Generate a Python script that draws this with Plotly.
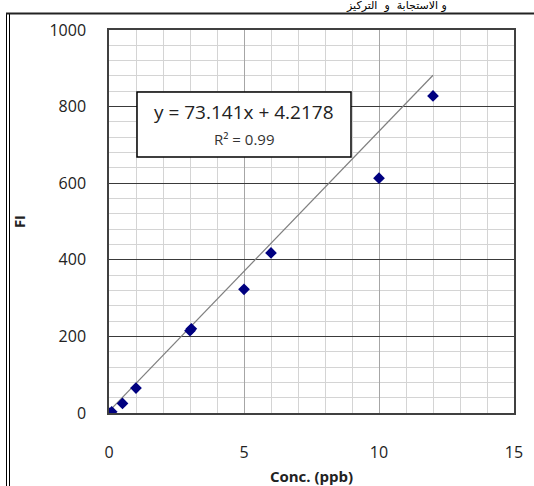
import plotly.graph_objects as go

# Calibration data: concentration (ppb) vs fluorescence intensity
conc = [0, 0.1, 0.5, 1, 3, 3.05, 5, 6, 10, 12]
fi = [0, 3, 25, 65, 215, 220, 323, 418, 613, 828]

# Linear trendline as reported
slope = 73.141
intercept = 4.2178
r_squared = 0.99
fit_x = [min(conc), max(conc)]
fit_y = [slope * x + intercept for x in fit_x]

x_ticks = [0, 5, 10, 15]
y_ticks = [0, 200, 400, 600, 800, 1000]

W, H = 534, 486
ML, MR, MT, MB = 109, 20, 30, 73
PW, PH = W - ML - MR, H - MT - MB

def px_x(p):
    return (p - ML) / PW

def px_y(p):
    return 1 - (p - MT) / PH

font_main = "Open Sans, Liberation Sans, sans-serif"

fig = go.Figure()

fig.add_trace(go.Scatter(
    x=fit_x, y=fit_y, mode="lines",
    line=dict(color="#7f7f7f", width=1.2),
    hoverinfo="skip", showlegend=False,
))

fig.add_trace(go.Scatter(
    x=conc, y=fi, mode="markers",
    marker=dict(symbol="diamond", size=9, color="#000080",
                line=dict(width=0)),
    showlegend=False,
))

fig.update_layout(
    width=W, height=H,
    margin=dict(l=ML, r=MR, t=MT, b=MB, autoexpand=False),
    paper_bgcolor="white", plot_bgcolor="white",
    font=dict(family=font_main, size=16, color="#222222"),
    xaxis=dict(
        range=[0, 15], tickvals=x_ticks, ticktext=[str(v) for v in x_ticks],
        showgrid=True, gridcolor="#a6a6a6", gridwidth=1.2,
        minor=dict(dtick=1, showgrid=True, gridcolor="#d4d4d4", gridwidth=1),
        showline=True, mirror=True, linecolor="#404040", linewidth=1.5,
        zeroline=False, ticks="", ticklabelstandoff=24, automargin=False,
        title=dict(text="<b>Conc. (ppb)</b>", font=dict(size=15, color="#222222"),
                   standoff=12),
    ),
    yaxis=dict(
        range=[0, 1000], tickvals=y_ticks, ticktext=[str(v) for v in y_ticks],
        showgrid=True, gridcolor="#3a3a3a", gridwidth=1.4,
        minor=dict(dtick=40, showgrid=True, gridcolor="#d4d4d4", gridwidth=1),
        showline=True, mirror=True, linecolor="#404040", linewidth=1.5,
        zeroline=False, ticks="", ticklabelstandoff=18, automargin=False,
        title=dict(text="<b>FI</b>", font=dict(size=15, color="#222222"),
                   standoff=20),
    ),
)

# Equation box
fig.add_shape(type="rect", xref="paper", yref="paper",
              x0=px_x(137), x1=px_x(351), y0=px_y(157), y1=px_y(92),
              fillcolor="white", line=dict(color="black", width=1.5),
              layer="above")
fig.add_annotation(xref="paper", yref="paper", x=px_x(244), y=px_y(112),
                   text=f"y = {slope}x + {intercept}", showarrow=False,
                   font=dict(size=19, color="#222222"), xanchor="center",
                   yanchor="middle")
fig.add_annotation(xref="paper", yref="paper", x=px_x(244), y=px_y(139),
                   text=f"R² = {r_squared}", showarrow=False,
                   font=dict(size=15, color="#333333"), xanchor="center",
                   yanchor="middle")

# Page frame: double rule on the left, heavy rule across the top
for xp in (6.5, 9.5):
    fig.add_shape(type="line", xref="paper", yref="paper",
                  x0=px_x(xp), x1=px_x(xp), y0=px_y(13), y1=px_y(H + 5),
                  line=dict(color="black", width=1))
fig.add_shape(type="line", xref="paper", yref="paper",
              x0=px_x(6), x1=px_x(W + 5), y0=px_y(13.5), y1=px_y(13.5),
              line=dict(color="#222222", width=2))

# Running text of the page above the chart
fig.add_annotation(xref="paper", yref="paper", x=px_x(396), y=px_y(13),
                   text="و الاستجابة  و  التركيز", showarrow=False,
                   font=dict(family="DejaVu Sans", size=11, color="black"),
                   xanchor="center", yanchor="bottom", borderpad=0)

fig.write_html("out.html")
